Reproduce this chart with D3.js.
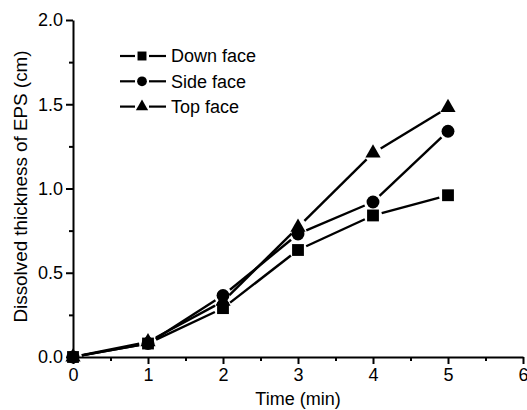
<!DOCTYPE html>
<html>
<head>
<meta charset="utf-8">
<script src="https://cdn.jsdelivr.net/npm/d3@7"></script>
<style>
  body { margin: 0; background: #fff; }
  svg { display: block; font-family: 'Liberation Sans', Arial, sans-serif; }
</style>
</head>
<body>
<div id="chart"></div>
<script>
let times = [0, 1, 2, 3, 4, 5]
let downFace = [0, 0.08, 0.29, 0.635, 0.84, 0.96]
let sideFace = [0, 0.08, 0.365, 0.73, 0.92, 1.34]
let topFace = [0, 0.09, 0.33, 0.77, 1.21, 1.48]
let seriesNames = ['Down face', 'Side face', 'Top face']
let xTicks = [0, 1, 2, 3, 4, 5, 6]
let yTicks = [0, 0.5, 1.0, 1.5, 2.0]

let width = 527,
  height = 410,
  margin = { top: 20, right: 4, bottom: 53, left: 73 },
  gap = 9 // space left between a line segment and its marker

let series = [
  { name: seriesNames[0], shape: d3.symbolSquare, size: 140, legendSize: 80, values: downFace },
  { name: seriesNames[1], shape: d3.symbolCircle, size: 130, legendSize: 75, values: sideFace },
  { name: seriesNames[2], shape: d3.symbolTriangle, size: 100, legendSize: 65, values: topFace }
]

let x = d3.scaleLinear()
  .domain([0, 6])
  .range([margin.left, width - margin.right])

let y = d3.scaleLinear()
  .domain([0, 2])
  .range([height - margin.bottom, margin.top])

let svg = d3.select('#chart').append('svg')
  .attr('width', width)
  .attr('height', height)

// minor ticks
svg.append('g')
  .attr('transform', 'translate(0,' + y(0) + ')')
  .call(d3.axisBottom(x).tickValues(d3.range(0.5, 6, 1)).tickSize(4).tickFormat(''))
  .call(g => g.select('.domain').remove())
  .call(g => g.selectAll('line').attr('stroke-width', 2))

svg.append('g')
  .attr('transform', 'translate(' + x(0) + ',0)')
  .call(d3.axisLeft(y).tickValues([0.25, 0.75, 1.25, 1.75]).tickSize(4).tickFormat(''))
  .call(g => g.select('.domain').remove())
  .call(g => g.selectAll('line').attr('stroke-width', 2))

// major axes
let xAxis = svg.append('g')
  .attr('transform', 'translate(0,' + y(0) + ')')
  .call(d3.axisBottom(x).tickValues(xTicks).tickSize(7).tickSizeOuter(0).tickPadding(4).tickFormat(d3.format('d')))

let yAxis = svg.append('g')
  .attr('transform', 'translate(' + x(0) + ',0)')
  .call(d3.axisLeft(y).tickValues(yTicks).tickSize(7).tickSizeOuter(0).tickPadding(3).tickFormat(d3.format('.1f')))

;[xAxis, yAxis].forEach(a => {
  a.select('.domain').attr('stroke-width', 2)
  a.selectAll('line').attr('stroke-width', 2)
  a.selectAll('text').attr('font-size', 18).attr('fill', '#000')
    .attr('font-family', "'Liberation Sans', Arial, sans-serif")
})

svg.append('text')
  .attr('x', (x(0) + x(6)) / 2)
  .attr('y', 405)
  .attr('text-anchor', 'middle')
  .attr('font-size', 18)
  .text('Time (min)')

svg.append('text')
  .attr('transform', 'translate(27,' + ((y(0) + y(2)) / 2 - 2) + ') rotate(-90)')
  .attr('text-anchor', 'middle')
  .attr('font-size', 18)
  .attr('textLength', 272)
  .attr('lengthAdjust', 'spacingAndGlyphs')
  .text('Dissolved thickness of EPS (cm)')

// lines with gaps around markers
function segments(values) {
  let pts = values.map((v, i) => [x(times[i]), y(v)])
  let segs = []
  for (let i = 0; i < pts.length - 1; i++) {
    let [x1, y1] = pts[i], [x2, y2] = pts[i + 1]
    let len = Math.hypot(x2 - x1, y2 - y1)
    if (len <= gap * 2) continue
    let ux = (x2 - x1) / len, uy = (y2 - y1) / len
    segs.push([x1 + ux * gap, y1 + uy * gap, x2 - ux * gap, y2 - uy * gap])
  }
  return segs
}

series.forEach(s => {
  svg.append('g').selectAll('line')
    .data(segments(s.values))
    .enter().append('line')
    .attr('x1', d => d[0])
    .attr('y1', d => d[1])
    .attr('x2', d => d[2])
    .attr('y2', d => d[3])
    .attr('stroke', '#000')
    .attr('stroke-width', 2.4)
})

series.forEach(s => {
  svg.append('g').selectAll('path')
    .data(s.values)
    .enter().append('path')
    .attr('d', d3.symbol().type(s.shape).size(s.size))
    .attr('transform', (d, i) => 'translate(' + x(times[i]) + ',' + y(d) + ')')
    .attr('fill', '#000')
})

// legend
let legend = svg.append('g')
  .attr('transform', 'translate(120,56)')

let rows = legend.selectAll('g')
  .data(series)
  .enter().append('g')
  .attr('transform', (d, i) => 'translate(0,' + i * 25.3 + ')')

rows.append('line')
  .attr('x1', 0).attr('x2', 15)
  .attr('stroke', '#000').attr('stroke-width', 2.2)
rows.append('line')
  .attr('x1', 29).attr('x2', 46)
  .attr('stroke', '#000').attr('stroke-width', 2.2)
rows.append('path')
  .attr('d', d => d3.symbol().type(d.shape).size(d.legendSize)())
  .attr('transform', 'translate(22,0)')
rows.append('text')
  .attr('x', 51)
  .attr('dy', '0.36em')
  .attr('font-size', 18)
  .text(d => d.name)
</script>
</body>
</html>
